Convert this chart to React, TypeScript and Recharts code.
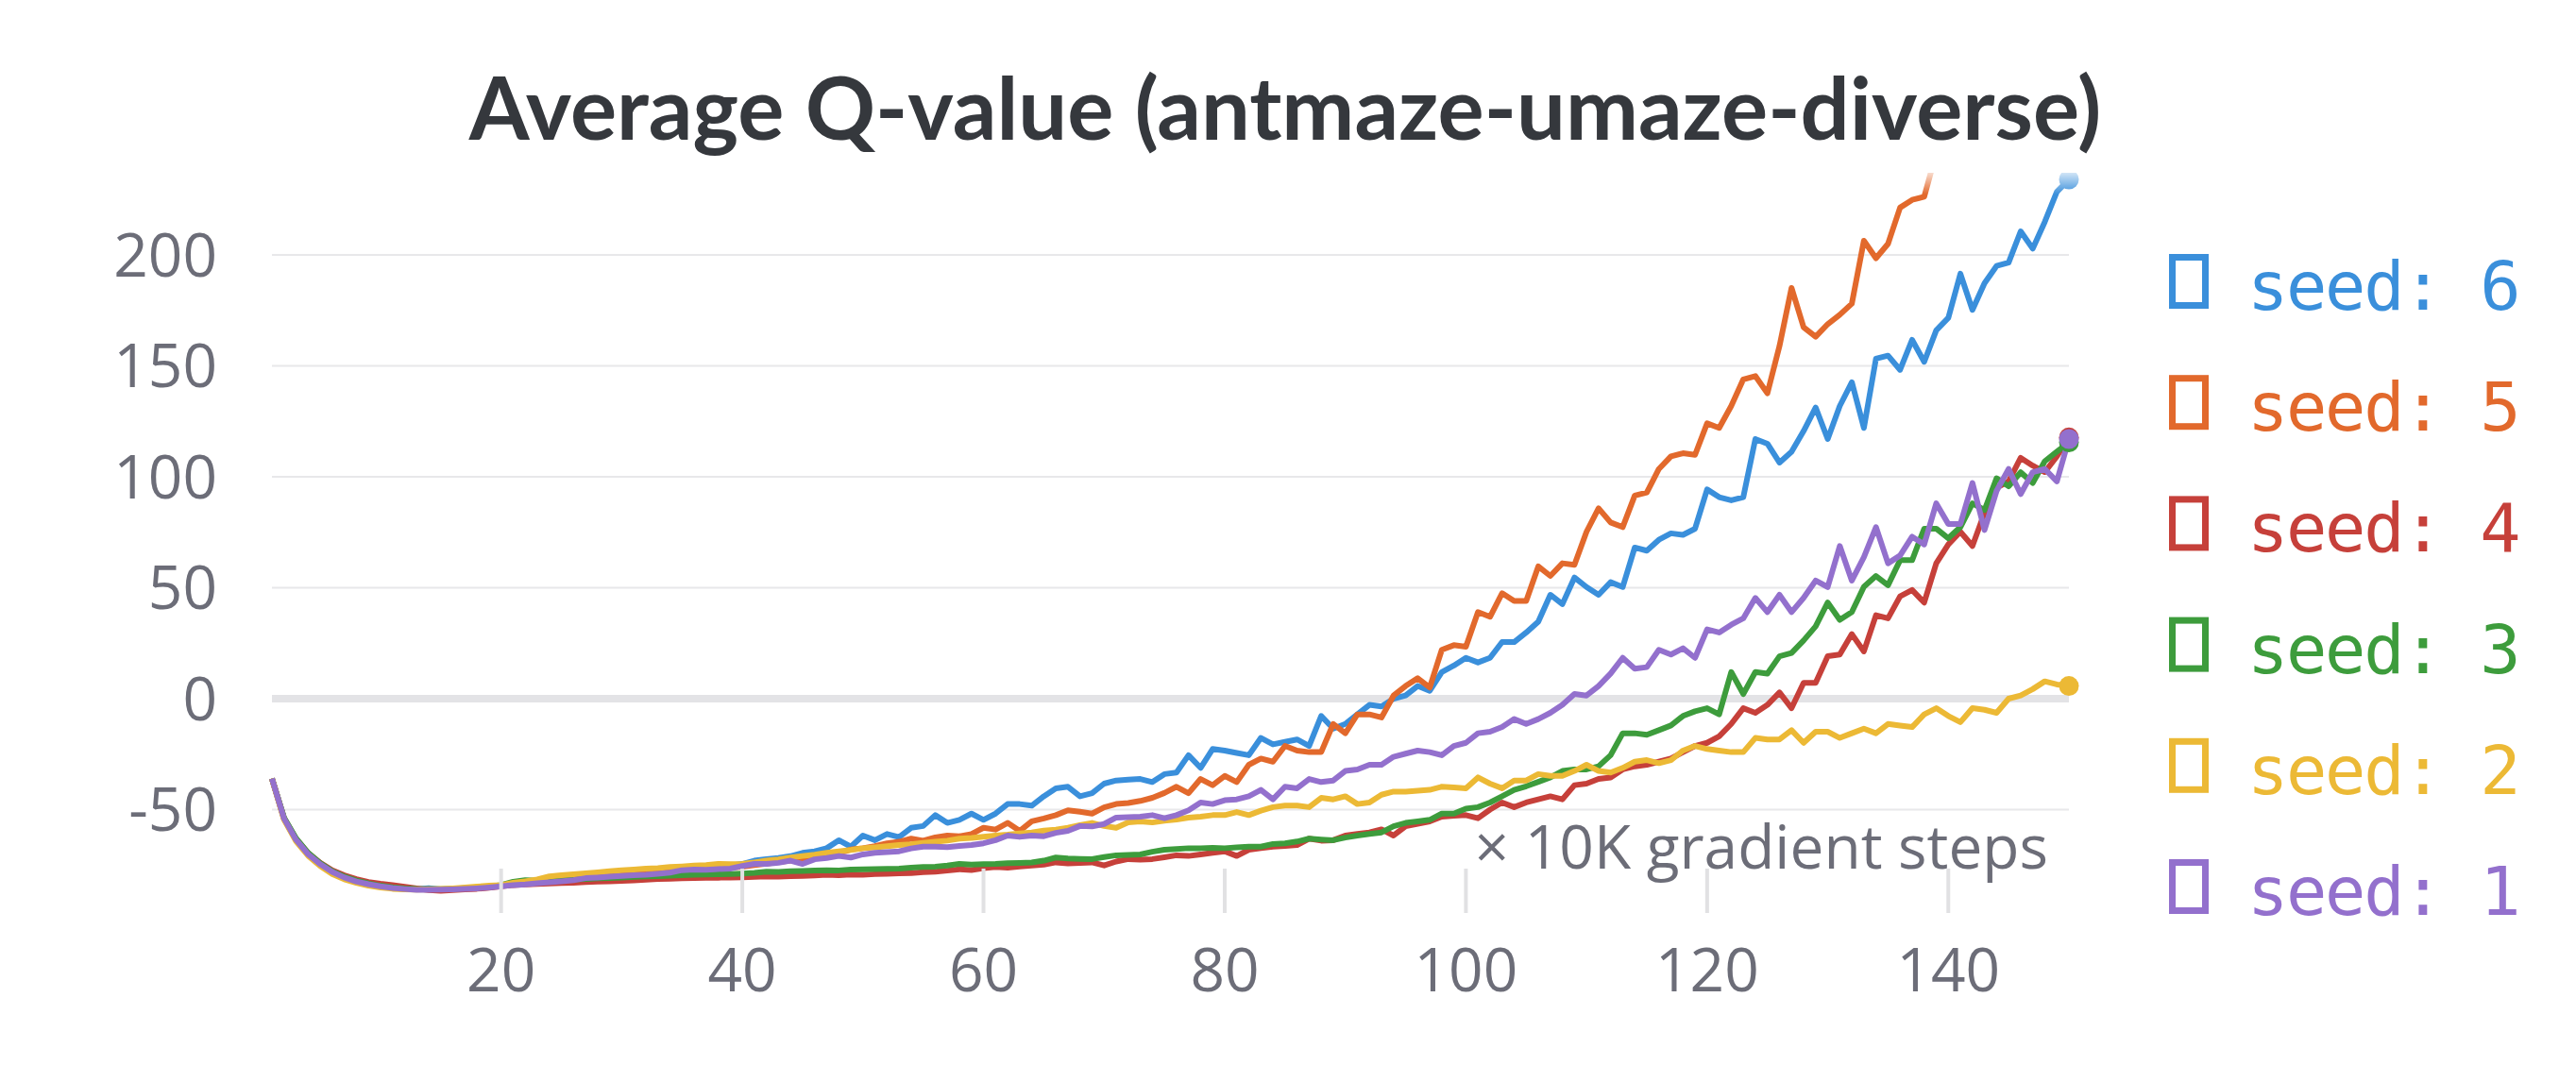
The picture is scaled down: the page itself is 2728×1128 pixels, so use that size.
import React from 'react'
import { LineChart, Line, XAxis, YAxis, ReferenceLine } from 'recharts'

// x = training step (x 10K gradient steps), 1..150
const steps: number[] = Array.from({ length: 150 }, (_, i) => i + 1)

const seed6 = [
  -36, -54, -63.5, -70, -74.5, -78, -80.5, -82.3, -83.5, -84.5,
  -85.2, -85.6, -85.9, -85.4, -86, -85.8, -85.5, -85.3, -85, -84.4,
  -83.8, -83.2, -82.9, -82.3, -81.6, -81.2, -80.6, -80.1, -79.5, -79,
  -78.6, -78.2, -77.8, -77.2, -76.8, -76.3, -76, -75.6, -75.2, -74.5,
  -73, -72.3, -71.8, -71, -69.5, -68.8, -67.4, -63.8, -66.7, -61.7,
  -63.8, -61, -62.4, -58.2, -57.4, -52.5, -56, -54.6, -51.8, -54.6,
  -51.8, -47.5, -47.5, -48.2, -44, -40.4, -39.7, -44, -42.6, -38.3,
  -36.9, -36.5, -36.2, -37.6, -34, -33.3, -25.5, -31.2, -22.7, -23.4,
  -24.5, -25.5, -17.7, -20.6, -19.5, -18.4, -21.3, -7.8, -13.5, -11.4,
  -7.1, -2.8, -3.5, 0, 1.4, 5.7, 3.5, 12, 14.9, 18.4,
  16.3, 18.4, 25.5, 25.5, 29.8, 34.7, 46.8, 42.6, 54.6, 50.3,
  46.8, 52.5, 50.3, 68.1, 66.7, 71.6, 74.5, 73.8, 76.6, 94.3,
  90.8, 89.4, 90.8, 117, 114.9, 106.4, 111.3, 120.6, 131.2, 117,
  131.9, 142.6, 122, 153.2, 154.6, 148.2, 161.7, 151.8, 166, 171.6,
  191.5, 175.2, 187.2, 195, 196.5, 210.6, 202.8, 214.9, 228.4, 234,
]

const seed5 = [
  -36, -54.2, -63.8, -70.2, -74.8, -78.2, -80.7, -82.5, -83.7, -84.6,
  -85.3, -85.8, -86, -85.9, -86.1, -85.9, -85.6, -85.2, -84.9, -84.3,
  -83.6, -83, -82.7, -82, -81.4, -81, -80.4, -80, -79.6, -79.2,
  -78.8, -78.5, -78, -77.7, -77.3, -77, -76.8, -76.4, -76.2, -75.8,
  -75, -74.4, -73.6, -73, -72, -71.2, -70.3, -69.5, -68, -67.4,
  -66.5, -65.2, -64.5, -63.1, -64, -62.5, -61.7, -62, -61, -58.2,
  -59, -56, -59.6, -55.3, -54, -52.5, -50.3, -51, -51.8, -49,
  -47.5, -47, -46.1, -44.7, -42.5, -39.7, -42.6, -36.2, -39, -34.8,
  -37.6, -29.8, -27, -28.4, -21.3, -23.4, -24.1, -24.1, -11.4, -15.6,
  -7.1, -7.1, -8.5, 1.4, 5.7, 9.2, 5, 22, 24.1, 23.4,
  39, 36.9, 47.5, 44, 44, 59.6, 55.3, 61, 60.3, 75.2,
  85.8, 79.4, 77.3, 91.5, 92.9, 103.5, 109.2, 110.6, 109.9, 124.1,
  122, 131.9, 143.9, 145.4, 137.6, 158.9, 185.1, 167.4, 163.1, 168.8,
  173, 178, 206.4, 198.5, 205, 221.3, 224.8, 226.2, 246, 258,
  262, 270, 268, 281, 290, 286, 300, 312, 308, 322,
]

const seed4 = [
  -36, -53.8, -63.2, -69.6, -74, -77.4, -79.6, -81.3, -82.6, -83.4,
  -84, -84.8, -85.5, -86.3, -86.6, -86.3, -86, -85.7, -85.2, -84.6,
  -84, -83.7, -83.5, -83.3, -83.1, -83, -82.7, -82.5, -82.3, -82.1,
  -81.9, -81.6, -81.3, -81.2, -81, -80.9, -80.8, -80.7, -80.6, -80.5,
  -80.3, -80.1, -80.2, -80, -79.9, -79.7, -79.4, -79.6, -79.3, -79.4,
  -79.1, -78.9, -78.7, -78.6, -78.2, -78, -77.5, -76.9, -77.2, -76.4,
  -75.9, -76.2, -75.6, -75.2, -74.8, -73.8, -74.3, -74, -73.8, -75.2,
  -73.4, -72.3, -72.6, -72.3, -71.5, -70.6, -70.9, -70.2, -69.5, -68.8,
  -70.9, -68.1, -67.4, -66.7, -66.4, -66, -63.1, -64, -63.8, -61.7,
  -61, -60.3, -58.9, -61.7, -57.5, -56.4, -55.3, -53.2, -52.8, -52.5,
  -53.9, -50, -46.8, -48.9, -46.8, -45.4, -44, -45.4, -39, -38.3,
  -36.2, -35.5, -31.9, -30.5, -29.8, -28.4, -27, -24.1, -21.3, -19.9,
  -17, -11.4, -4.3, -6.4, -2.8, 2.8, -4.3, 7.1, 7.1, 19.1,
  19.9, 29.1, 21.3, 37.6, 36.2, 46.1, 49, 43.3, 61, 69.5,
  75.2, 68.8, 83.7, 95, 97.9, 108.5, 105, 102.1, 109.2, 117.7,
]

const seed3 = [
  -36, -53.6, -63, -69.5, -74.2, -77.8, -80.2, -82, -83.3, -84.3,
  -85, -85.5, -85.8, -85.9, -85.9, -85.7, -85.4, -85, -84.6, -84,
  -82.5, -81.8, -82, -81.6, -81.8, -81.5, -81.3, -81, -80.9, -80.6,
  -80.3, -80.1, -80, -79.8, -79.6, -79.4, -79.3, -79.2, -79, -78.8,
  -78.5, -78, -78.1, -77.8, -77.7, -77.5, -77.3, -77.4, -77, -76.9,
  -76.8, -76.7, -76.6, -76.2, -75.9, -75.7, -75.2, -74.5, -74.8, -74.6,
  -74.5, -74.2, -74, -73.8, -73, -71.6, -72, -72.2, -72.3, -71.4,
  -70.6, -70.4, -70.2, -69, -68.1, -67.8, -67.4, -67.4, -67.2, -67.4,
  -67, -66.7, -66.7, -65.5, -65.2, -64.4, -63.1, -63.5, -63.8, -62.6,
  -61.7, -61, -60.3, -57.5, -56, -55.3, -54.6, -51.8, -51.8, -49.6,
  -48.9, -46.8, -44, -41.1, -39.5, -37.5, -35.5, -32.6, -31.9, -31.9,
  -30.5, -25.5, -15.6, -15.6, -16.3, -14.2, -12.1, -7.8, -5.7, -4.3,
  -7.1, 12, 2.1, 12, 11.3, 19.1, 20.6, 26.2, 32.6, 43.3,
  35.5, 39, 50.4, 55.3, 51.1, 62.4, 62.4, 76.6, 76.6, 72.3,
  77.3, 88, 85, 99.3, 95.7, 102, 97.2, 107, 111.3, 115.5,
]

const seed2 = [
  -36, -54.5, -64.3, -70.8, -75.4, -79, -81.4, -83, -84.3, -85.1,
  -85.7, -86, -86.1, -86, -85.8, -85.5, -85.1, -84.7, -84.3, -84,
  -83, -82.3, -81.5, -80.1, -79.6, -79.2, -78.7, -78.3, -77.8, -77.3,
  -77, -76.6, -76.4, -75.9, -75.6, -75.2, -75, -74.5, -74.6, -74.5,
  -73.8, -73, -72.4, -71.6, -70.9, -70.3, -69.5, -68.8, -68.2, -67.4,
  -67, -66.5, -66, -65.6, -65, -64.5, -64, -63.1, -62.8, -62.2,
  -61.7, -61.3, -60.7, -60.3, -59.5, -59, -58.2, -57, -56, -57.4,
  -58.2, -55.8, -55.3, -55.8, -55, -54.5, -53.6, -53.2, -52.5, -52.5,
  -51.1, -52.5, -50.5, -48.9, -48.2, -48.2, -48.9, -44.7, -45.4, -44,
  -47.5, -46.8, -43.3, -41.9, -41.9, -41.5, -41.1, -39.7, -40, -40.4,
  -35.5, -38.3, -40.4, -36.9, -36.9, -34, -34.8, -34.8, -32.6, -29.8,
  -32.6, -33.3, -31.2, -28.4, -27.7, -29.1, -27.7, -23.4, -21.3, -22.7,
  -23.4, -24.1, -24.1, -17.7, -18.4, -18.4, -14.2, -19.9, -14.9, -14.9,
  -17.7, -15.6, -13.5, -15.6, -11.4, -12.1, -12.8, -7.1, -4.3, -7.8,
  -10.6, -4.3, -5, -6.4, 0, 1.4, 4.3, 7.8, 6.4, 5.7,
]

const seed1 = [
  -36, -54, -63.6, -70.1, -74.6, -78.1, -80.6, -82.4, -83.6, -84.6,
  -85.3, -85.8, -86.2, -86.2, -86.1, -86, -85.8, -85.5, -85.1, -84.6,
  -84, -83.7, -83.2, -82.8, -82.3, -81.8, -80.9, -80.6, -80.2, -79.9,
  -79.6, -79.4, -78.9, -78.4, -77.3, -77, -77.1, -76.8, -76.6, -75.4,
  -74.5, -74.5, -74, -73, -74.5, -72.4, -71.8, -70.9, -71.6, -70.2,
  -69.5, -69.2, -68.8, -67.5, -66.7, -66.7, -66.9, -66.4, -66, -65.2,
  -63.8, -61.7, -62.3, -61.7, -62, -60.5, -59.6, -57.4, -57.6, -56.5,
  -53.6, -53.4, -53.2, -52.5, -53.9, -52.5, -50.3, -46.8, -47.5, -45.8,
  -45.4, -44, -41.1, -45.4, -39.7, -40.4, -36.2, -37.6, -36.9, -32.6,
  -31.9, -29.8, -29.8, -26.2, -24.8, -23.4, -24.1, -25.5, -21.3, -19.9,
  -15.6, -14.9, -12.8, -9.2, -11.4, -9.2, -6.4, -2.8, 2.1, 1.4,
  5.7, 11.3, 18.4, 13.5, 14.2, 22, 19.9, 22.7, 18.4, 31.2,
  29.8, 33.3, 36.2, 45.4, 39, 46.8, 39, 45.4, 53.2, 50.3,
  68.8, 53.2, 63.8, 77.3, 61, 64.5, 73, 69.5, 88, 78.7,
  78.7, 97.2, 76, 93.6, 103.5, 92.2, 102.1, 103.5, 97.9, 117,
]

const xTicks = [20, 40, 60, 80, 100, 120, 140]
const yTicks = [-50, 0, 50, 100, 150, 200]
const yDomain: [number, number] = [-96.6, 237]

const series = [
  { key: 's6', name: 'seed: 6', color: '#3a8fdb', values: seed6 },
  { key: 's5', name: 'seed: 5', color: '#e2692c', values: seed5 },
  { key: 's4', name: 'seed: 4', color: '#c6403a', values: seed4 },
  { key: 's3', name: 'seed: 3', color: '#3d9c3c', values: seed3 },
  { key: 's2', name: 'seed: 2', color: '#ecb935', values: seed2 },
  { key: 's1', name: 'seed: 1', color: '#9370cd', values: seed1 },
]

const data = steps.map((step, i) => {
  const row: Record<string, number> = { step }
  series.forEach(s => { row[s.key] = s.values[i] })
  return row
})

const GRAY = '#6c6d78'
const FONT = '"Open Sans", "Noto Sans", sans-serif'

const XTick = (props: any) => {
  const { x, y, payload } = props
  return (
    <g>
      <line x1={x} x2={x} y1={y - 47} y2={y} stroke="#e1e1e3" strokeWidth={4} />
      <text x={x} y={y + 83} textAnchor="middle" fill={GRAY} fontSize={64} fontFamily={FONT}>{payload.value}</text>
    </g>
  )
}

const endDot = (color: string) => (props: any) => {
  const { cx, cy, index, value } = props
  if (index !== steps.length - 1 || value > yDomain[1]) return <g key={`d-${index}`} />
  return <circle key={`d-${index}`} cx={cx} cy={cy} r={10.5} fill={color} stroke="none" />
}

export default function App() {
  return (
    <div style={{ position: 'absolute', left: 0, top: 0, width: 2728, height: 1128, background: '#fff' }}>
      <LineChart width={2728} height={1128} data={data} margin={{ top: 183, right: 537, bottom: 61, left: 168 }}>
        {yTicks.filter(t => t !== 0).map(t => (
          <ReferenceLine key={t} y={t} stroke="#e8e8ea" strokeWidth={2} />
        ))}
        <ReferenceLine y={0} stroke="#e3e3e6" strokeWidth={8} />
        <XAxis dataKey="step" type="number" domain={[1, 150]} ticks={xTicks} axisLine={false} tickLine={false}
          tickSize={0} tickMargin={0} height={100} tick={<XTick />} interval={0}
          label={{ content: (p: any) => {
            const vb = p.viewBox
            return <text x={vb.x + vb.width - 22} y={vb.y - 47} textAnchor="end" fill={GRAY} fontSize={64} fontFamily={FONT}>× 10K gradient steps</text>
          } }} />
        <YAxis type="number" domain={yDomain} ticks={yTicks} allowDataOverflow axisLine={false} tickLine={false}
          tickSize={0} tickMargin={58} width={120} interval={0}
          tick={{ fill: GRAY, fontSize: 64, fontFamily: FONT }} />
        {series.map(s => (
          <Line key={s.key} dataKey={s.key} name={s.name} type="linear" stroke={s.color} strokeWidth={6}
            dot={endDot(s.color)} activeDot={false} isAnimationActive={false} strokeLinejoin="round" />
        ))}
      </LineChart>
      <svg width={2728} height={1128} style={{ position: 'absolute', left: 0, top: 0, pointerEvents: 'none' }}>
        <defs>
          <linearGradient id="topFade" x1="0" y1="0" x2="0" y2="1">
            <stop offset="0%" stopColor="#fff" stopOpacity={1} />
            <stop offset="100%" stopColor="#fff" stopOpacity={0} />
          </linearGradient>
        </defs>
        <rect x={284} y={176} width={1920} height={30} fill="url(#topFade)" />
        <text x={1361} y={148} textAnchor="middle" fill="#35383d" fontSize={92} fontWeight={700} fontFamily="Lato, sans-serif">
          Average Q-value (antmaze-umaze-diverse)
        </text>
        {series.map((s, i) => (
          <g key={s.key} transform={`translate(0, ${i * 128.2})`}>
            <rect x={2300.5} y={272.5} width={35} height={51} fill="none" stroke={s.color} strokeWidth={7} />
            <text x={2380} y={328} fill={s.color} fontSize={72} letterSpacing={-2.3}
              fontFamily='"DejaVu Sans Mono", monospace' style={{ whiteSpace: 'pre' }}>
              {s.name}
            </text>
          </g>
        ))}
      </svg>
    </div>
  )
}
